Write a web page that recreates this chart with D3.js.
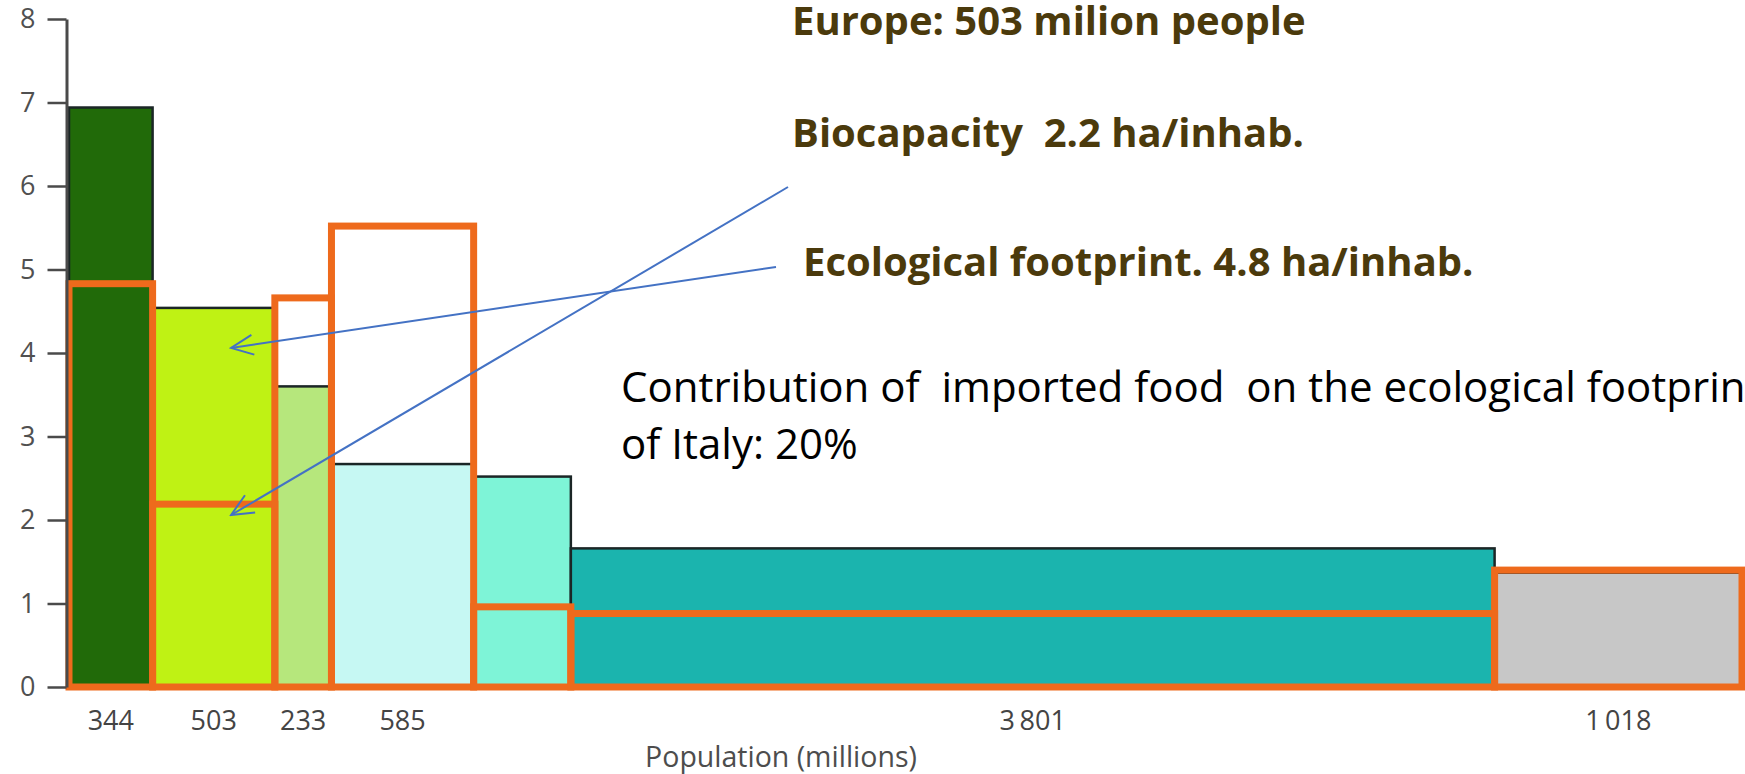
<!DOCTYPE html>
<html>
<head>
<meta charset="utf-8">
<script src="https://cdn.jsdelivr.net/npm/d3@7"></script>
<style>
  body { margin: 0; background: #fff; }
  svg { display: block; }
  text { white-space: pre; }
</style>
</head>
<body>
<div id="chart"></div>
<script>
// Population of each region (millions), left to right
const population = [344, 503, 233, 585, 400, 3801, 1018];
const populationLabels = ["344", "503", "233", "585", "", "3\u2009801", "1\u2009018"];

// Ecological footprint (filled bars) and biocapacity (orange boxes), ha per inhabitant
const footprint = [6.94, 4.54, 3.60, 2.67, 2.52, 1.66, 1.37];
const biocapacity = [4.83, 2.19, 4.66, 5.52, 0.96, 0.88, 1.40];

const yTicks = [0, 1, 2, 3, 4, 5, 6, 7, 8];

// Arrow targets inside the Europe bar (cumulative population, ha/inhab.)
const arrowTargets = [
  { pop: 667, value: 2.06 },
  { pop: 667, value: 4.06 }
];

const width = 1745,
  height = 774;

const svg = d3.select("#chart")
  .append("svg")
  .attr("width", width)
  .attr("height", height);

// Scales

const starts = [0, ...Array.from(d3.cumsum(population))].slice(0, -1);
const bars = population.map((p, i) => ({
  i: i,
  x0: starts[i],
  x1: starts[i] + p,
  footprint: footprint[i],
  biocapacity: biocapacity[i],
  label: populationLabels[i]
}));

const x = d3.scaleLinear()
  .domain([0, d3.sum(population)])
  .range([69, 1742]);

const y = d3.scaleLinear()
  .domain([0, 8])
  .range([687, 19]);

const color = d3.scaleOrdinal()
  .domain(d3.range(population.length))
  .range(["#216a09", "#bff214", "#b6e77c", "#c6f8f3", "#7ef4d7", "#1bb4ae", "#c7c7c7"]);

const orange = "#ee6a1c";

// Footprint bars

svg.append("g")
  .selectAll("rect")
  .data(bars)
  .enter()
  .append("rect")
  .attr("x", d => x(d.x0))
  .attr("y", d => y(d.footprint))
  .attr("width", d => x(d.x1) - x(d.x0))
  .attr("height", d => y(0) - y(d.footprint))
  .attr("fill", d => color(d.i))
  .attr("stroke", "#1b2626")
  .attr("stroke-width", 2.5);

// Biocapacity boxes

svg.append("g")
  .selectAll("rect")
  .data(bars)
  .enter()
  .append("rect")
  .attr("x", d => x(d.x0))
  .attr("y", d => y(d.biocapacity))
  .attr("width", d => x(d.x1) - x(d.x0))
  .attr("height", d => y(0) - y(d.biocapacity))
  .attr("fill", "none")
  .attr("stroke", orange)
  .attr("stroke-width", 7);

// Y axis

svg.append("g")
  .attr("transform", "translate(66.5,0)")
  .call(d3.axisLeft(y).tickValues(yTicks).tickSize(19).tickSizeOuter(0).tickPadding(12).tickFormat(d3.format("d")))
  .call(g => g.select(".domain").attr("stroke", "#4a4a4a").attr("stroke-width", 3))
  .call(g => g.selectAll(".tick line").attr("stroke", "#4a4a4a").attr("stroke-width", 2.5))
  .call(g => g.selectAll(".tick text")
    .attr("fill", "#505050")
    .style("font-family", "'Open Sans', sans-serif")
    .style("font-size", "27px"));

// X labels (population)

svg.append("g")
  .selectAll("text")
  .data(bars)
  .enter()
  .append("text")
  .attr("x", d => x((d.x0 + d.x1) / 2))
  .attr("y", 730)
  .attr("text-anchor", "middle")
  .style("font-family", "'Open Sans', sans-serif")
  .style("font-size", "27px")
  .attr("fill", "#444")
  .text(d => d.label);

svg.append("text")
  .attr("x", 781)
  .attr("y", 767)
  .attr("text-anchor", "middle")
  .style("font-family", "'Open Sans', sans-serif")
  .style("font-size", "28.5px")
  .attr("fill", "#4d4d4d")
  .text("Population (millions)");

// Annotations

const notes = [
  { text: "Europe: 503 milion people", x: 792, y: 35, bold: true },
  { text: "Biocapacity  2.2 ha/inhab.", x: 792, y: 147, bold: true },
  { text: "Ecological footprint. 4.8 ha/inhab.", x: 803, y: 276, bold: true },
  { text: "Contribution of  imported food  on the ecological footprint", x: 621, y: 402, bold: false },
  { text: "of Italy: 20%", x: 621, y: 459, bold: false }
];

svg.append("g")
  .selectAll("text")
  .data(notes)
  .enter()
  .append("text")
  .attr("x", d => d.x)
  .attr("y", d => d.y)
  .style("font-family", "'Open Sans', sans-serif")
  .style("font-size", d => d.bold ? "40px" : "42px")
  .style("font-weight", d => d.bold ? 700 : 400)
  .attr("fill", d => d.bold ? "#4b3a0c" : "#000")
  .text(d => d.text);

// Arrows

svg.append("defs")
  .append("marker")
  .attr("id", "arrowHead")
  .attr("viewBox", "0 0 26 26")
  .attr("refX", 24)
  .attr("refY", 13)
  .attr("markerWidth", 26)
  .attr("markerHeight", 26)
  .attr("markerUnits", "userSpaceOnUse")
  .attr("orient", "auto")
  .append("path")
  .attr("d", "M2,3 L24,13 L2,23")
  .attr("fill", "none")
  .attr("stroke", "#4472c4")
  .attr("stroke-width", 2);

const arrowTails = [[788, 187], [776, 267]];

svg.append("g")
  .selectAll("line")
  .data(arrowTargets)
  .enter()
  .append("line")
  .attr("x1", (d, i) => arrowTails[i][0])
  .attr("y1", (d, i) => arrowTails[i][1])
  .attr("x2", d => x(d.pop))
  .attr("y2", d => y(d.value))
  .attr("stroke", "#4472c4")
  .attr("stroke-width", 2)
  .attr("marker-end", "url(#arrowHead)");
</script>
</body>
</html>
